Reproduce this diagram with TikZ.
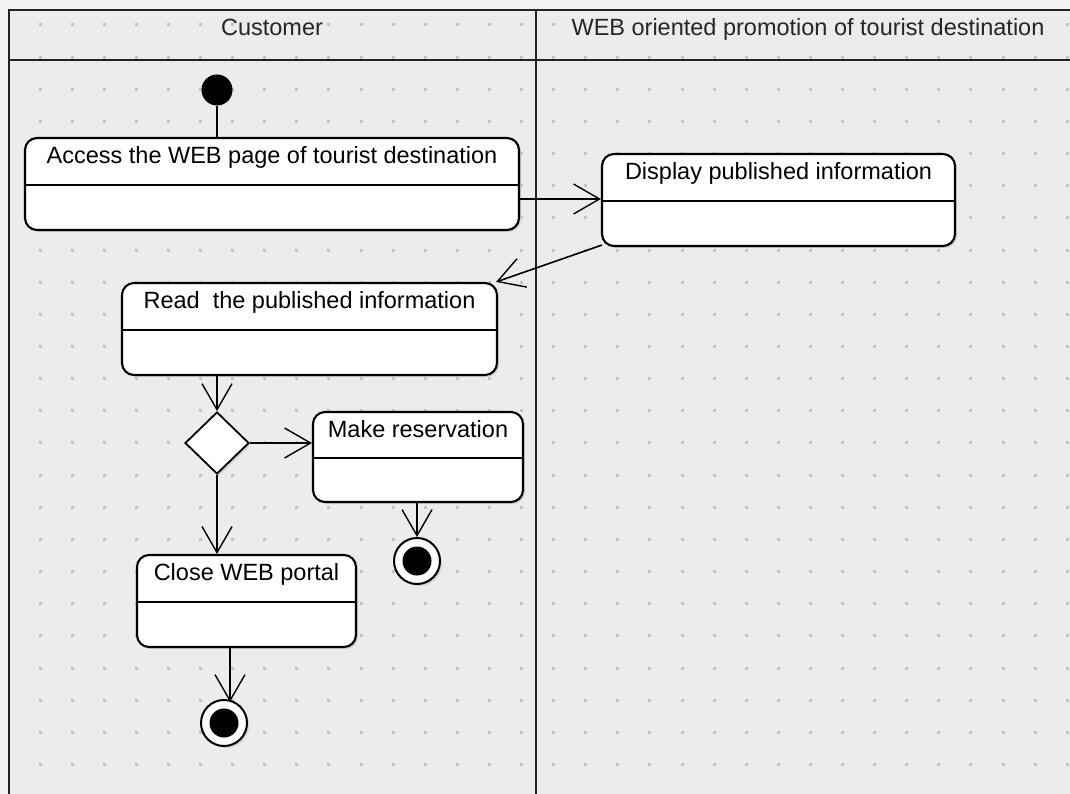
\documentclass[tikz,border=0pt]{standalone}
\usepackage{fontspec}
\setmainfont{Liberation Sans}
\usetikzlibrary{arrows.meta,shapes.geometric,shadows}
\definecolor{outerbg}{HTML}{F4F4F4}
\definecolor{innerbg}{HTML}{ECECEC}
\definecolor{dotc}{HTML}{C4C4C4}
\definecolor{lanec}{HTML}{222222}
\tikzset{
  actbox/.style={draw=black, line width=2.1pt, fill=white, rounded corners=12pt, inner sep=0pt,
    drop shadow={shadow xshift=2pt, shadow yshift=-2pt, fill=black!18, opacity=1}},
  lbl/.style={font=\fontsize{23.5}{28}\selectfont, anchor=base, inner sep=0pt},
  hdr/.style={font=\fontsize{23.5}{28}\selectfont, anchor=base, inner sep=0pt, text=black!85},
  flow/.style={line width=1.6pt, -{Straight Barb[length=26pt,width=30pt,line width=1.4pt]}},
  plain/.style={line width=1.6pt},
  lane/.style={draw=lanec, line width=2.6pt},
  finalst/.style={circle, draw=black, fill=white, line width=2pt, minimum size=46pt, inner sep=0pt},
  initst/.style={circle, fill=black, minimum size=31pt, inner sep=0pt},
  divline/.style={line width=1.8pt},
}
\begin{document}
\begin{tikzpicture}[x=1pt, y=-1pt]
\useasboundingbox (0,0) rectangle (1070,794);
% background
\fill[outerbg] (0,0) rectangle (1070,794);
\fill[innerbg] (9,10) rectangle (1070,794);
% grid dots
\foreach \i in {0,...,32}{
  \foreach \j in {0,...,23}{
    \fill[dotc] ({40+32.1*\i-1.5},{25+32.15*\j-1.5}) rectangle +(3,3);
  }
}
% swimlanes
\draw[lane] (1070,10) -- (9,10) -- (9,794);
\draw[lane] (9,60) -- (1070,60);
\draw[lane] (536,10) -- (536,794);
\node[hdr] (hcust) at (272,36) {Customer};
\node[hdr] (hweb) at (808,36) {WEB oriented promotion of tourist destination};

% activities
\node[actbox, minimum width=494pt, minimum height=92pt] (access) at (272,184) {};
\node[lbl] (accesst) at ([yshift=-27pt]access.north) {Access the WEB page of tourist destination};
\draw[divline] ([yshift=-48pt]access.north west) -- ([yshift=-48pt]access.north east);

\node[actbox, minimum width=353pt, minimum height=92pt] (disp) at (778.5,200) {};
\node[lbl] (dispt) at ([yshift=-27pt]disp.north) {Display published information};
\draw[divline] ([yshift=-48pt]disp.north west) -- ([yshift=-48pt]disp.north east);

\node[actbox, minimum width=375pt, minimum height=92pt] (read) at (309.5,329) {};
\node[lbl] (readt) at ([yshift=-27pt]read.north) {Read~ the published information};
\draw[divline] ([yshift=-48pt]read.north west) -- ([yshift=-48pt]read.north east);

\node[actbox, minimum width=210pt, minimum height=90pt] (make) at (418,457) {};
\node[lbl] (maket) at ([yshift=-27pt]make.north) {Make reservation};
\draw[divline] ([yshift=-47pt]make.north west) -- ([yshift=-47pt]make.north east);

\node[actbox, minimum width=219pt, minimum height=92pt] (close) at (246.5,601) {};
\node[lbl] (closet) at ([yshift=-27pt]close.north) {Close WEB portal};
\draw[divline] ([yshift=-48pt]close.north west) -- ([yshift=-48pt]close.north east);

% decision
\node[diamond, draw=black, fill=white, line width=1.8pt, minimum width=64pt, minimum height=62pt, inner sep=0pt,
  drop shadow={shadow xshift=2pt, shadow yshift=-2pt, fill=black!18, opacity=1}] (dec) at (217,443) {};

% initial and final
\node[initst] (init) at (217,90) {};
\node[finalst, drop shadow={shadow xshift=2pt, shadow yshift=-2pt, fill=black!18, opacity=1}] (fin1) at (417,561) {};
\fill (fin1.center) circle (14.5pt);
\node[finalst, drop shadow={shadow xshift=2pt, shadow yshift=-2pt, fill=black!18, opacity=1}] (fin2) at (224,723) {};
\fill (fin2.center) circle (14.5pt);

% connectors
\draw[plain] (init) -- (init |- access.north);
\draw[flow] ([yshift=-15pt]access.east) -- ([yshift=-15pt]access.east -| disp.west);
\draw[flow] ([xshift=1pt,yshift=2pt]disp.south west) -- ([xshift=-2pt]read.north east);
\draw[flow] (dec |- read.south) -- (dec.north);
\draw[flow] (dec.east) -- (dec.east -| make.west);
\draw[flow] (dec.south) -- (dec.south |- close.north);
\draw[flow] (fin1 |- make.south) -- (fin1.north);
\draw[flow] ([xshift=-16.5pt]close.south) -- ([xshift=6pt,yshift=-3pt]fin2.north);
\end{tikzpicture}
\end{document}
